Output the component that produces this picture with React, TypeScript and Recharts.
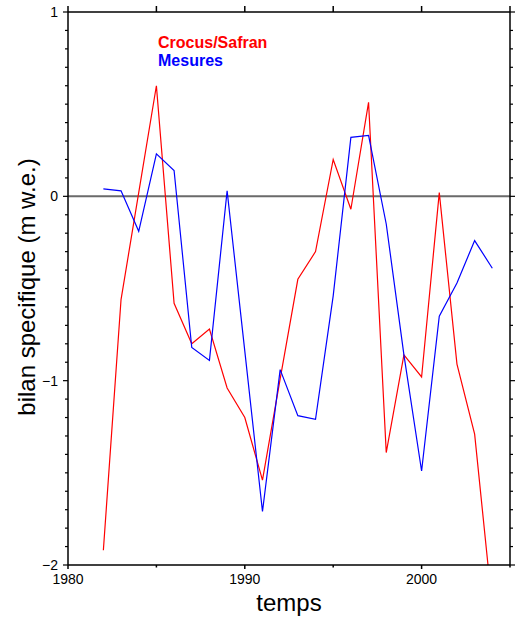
import { LineChart, Line, XAxis, YAxis, ReferenceLine } from 'recharts';

const years = [
  1982, 1983, 1984, 1985, 1986, 1987, 1988, 1989, 1990, 1991, 1992, 1993,
  1994, 1995, 1996, 1997, 1998, 1999, 2000, 2001, 2002, 2003, 2004,
];
// bilan spécifique modélisé (Crocus/Safran), m w.e.
const crocusSafran = [
  -1.92, -0.56, 0.02, 0.6, -0.58, -0.8, -0.72, -1.04, -1.2, -1.54, -0.99, -0.45,
  -0.3, 0.2, -0.07, 0.51, -1.39, -0.86, -0.98, 0.02, -0.91, -1.29, -2.23,
];
// bilan mesuré
const mesures = [
  0.04, 0.03, -0.19, 0.23, 0.14, -0.82, -0.89, 0.03, -0.84, -1.71, -0.94, -1.19,
  -1.21, -0.54, 0.32, 0.33, -0.15, -0.86, -1.49, -0.65, -0.47, -0.24, -0.39,
];

const xTicks = [1980, 1985, 1990, 1995, 2000, 2005];
const xLabels = [1980, 1990, 2000];
const yTicks = [
  -2, -1.9, -1.8, -1.7, -1.6, -1.5, -1.4, -1.3, -1.2, -1.1,
  -1, -0.9, -0.8, -0.7, -0.6, -0.5, -0.4, -0.3, -0.2, -0.1,
  0, 0.1, 0.2, 0.3, 0.4, 0.5, 0.6, 0.7, 0.8, 0.9, 1,
];
const yLabels = [-2, -1, 0, 1];

const FONT = '"Liberation Sans", Arial, Helvetica, sans-serif';

const data = years.map((year, i) => ({
  year,
  crocus: crocusSafran[i],
  mesures: mesures[i],
}));

const fmt = (v: number) => (v < 0 ? `\u2212${Math.abs(v)}` : `${v}`);
const isLabel = (list: number[], v: number) => list.some((l) => Math.abs(l - v) < 1e-6);

function BottomTick({ x, y, payload }: any) {
  const major = isLabel(xLabels, payload.value);
  return (
    <g>
      <line x1={x} x2={x} y1={y} y2={y + (major ? 4 : 2.5)} stroke="#000" strokeWidth={1.5} />
      {major && (
        <text x={x} y={y + 19} textAnchor="middle" fontSize={14} fontFamily={FONT} fill="#000">
          {payload.value}
        </text>
      )}
    </g>
  );
}

function TopTick({ x, y }: any) {
  return <line x1={x} x2={x} y1={y} y2={y - 6} stroke="#000" strokeWidth={1.5} />;
}

function LeftTick({ x, y, payload }: any) {
  const major = isLabel(yLabels, payload.value);
  return (
    <g>
      <line x1={x} x2={x - (major ? 5 : 3)} y1={y} y2={y} stroke="#000" strokeWidth={1.2} />
      {major && (
        <text x={x - 10} y={y + 5} textAnchor="end" fontSize={14} fontFamily={FONT} fill="#000">
          {fmt(payload.value)}
        </text>
      )}
    </g>
  );
}

function RightTick({ x, y, payload }: any) {
  const major = isLabel(yLabels, payload.value);
  return <line x1={x} x2={x + (major ? 5 : 3)} y1={y} y2={y} stroke="#000" strokeWidth={1.2} />;
}

export default function App() {
  return (
    <div style={{ position: 'absolute', left: 0, top: 0, width: 516, height: 618, background: '#fff' }}>
      <LineChart width={516} height={618} data={data} margin={{ top: 0, right: 0, bottom: 0, left: 0 }}>
        <XAxis
          dataKey="year"
          type="number"
          domain={[1980, 2005]}
          ticks={xTicks}
          interval={0}
          height={53}
          tickSize={0}
          tickMargin={0}
          tickLine={false}
          axisLine={{ stroke: '#000', strokeWidth: 1.5 }}
          tick={<BottomTick />}
        />
        <XAxis
          xAxisId="top"
          orientation="top"
          dataKey="year"
          type="number"
          domain={[1980, 2005]}
          ticks={xTicks}
          interval={0}
          height={12}
          tickSize={0}
          tickMargin={0}
          tickLine={false}
          axisLine={{ stroke: '#000', strokeWidth: 1.5 }}
          tick={<TopTick />}
        />
        <YAxis
          type="number"
          domain={[-2, 1]}
          allowDataOverflow
          ticks={yTicks}
          interval={0}
          width={68}
          tickSize={0}
          tickMargin={0}
          tickLine={false}
          axisLine={{ stroke: '#000', strokeWidth: 1.5 }}
          tick={<LeftTick />}
        />
        <YAxis
          yAxisId="right"
          orientation="right"
          type="number"
          domain={[-2, 1]}
          allowDataOverflow
          ticks={yTicks}
          interval={0}
          width={6}
          tickSize={0}
          tickMargin={0}
          tickLine={false}
          axisLine={{ stroke: '#000', strokeWidth: 1.5 }}
          tick={<RightTick />}
        />
        <ReferenceLine y={0} stroke="#6a6a6a" strokeWidth={2} />
        <Line
          xAxisId="top"
          yAxisId="right"
          dataKey="mesures"
          stroke="none"
          dot={false}
          activeDot={false}
          legendType="none"
          isAnimationActive={false}
        />
        <Line
          type="linear"
          dataKey="crocus"
          stroke="#ff0000"
          strokeWidth={1.2}
          dot={false}
          activeDot={false}
          isAnimationActive={false}
        />
        <Line
          type="linear"
          dataKey="mesures"
          stroke="#0000ff"
          strokeWidth={1.2}
          dot={false}
          activeDot={false}
          isAnimationActive={false}
        />
      </LineChart>
      <svg
        width={516}
        height={618}
        style={{ position: 'absolute', left: 0, top: 0, pointerEvents: 'none' }}
      >
        <text x={158} y={48} fontSize={16} fontWeight="bold" fontFamily={FONT} fill="#ff0000">
          Crocus/Safran
        </text>
        <text x={158} y={66} fontSize={16} fontWeight="bold" fontFamily={FONT} fill="#0000ff">
          Mesures
        </text>
        <text x={289} y={611} textAnchor="middle" fontSize={24} fontFamily={FONT} fill="#000">
          temps
        </text>
        <text
          x={35}
          y={287}
          textAnchor="middle"
          fontSize={24}
          fontFamily={FONT}
          fill="#000"
          transform="rotate(-90, 35, 287)"
        >
          bilan specifique (m w.e.)
        </text>
      </svg>
    </div>
  );
}
